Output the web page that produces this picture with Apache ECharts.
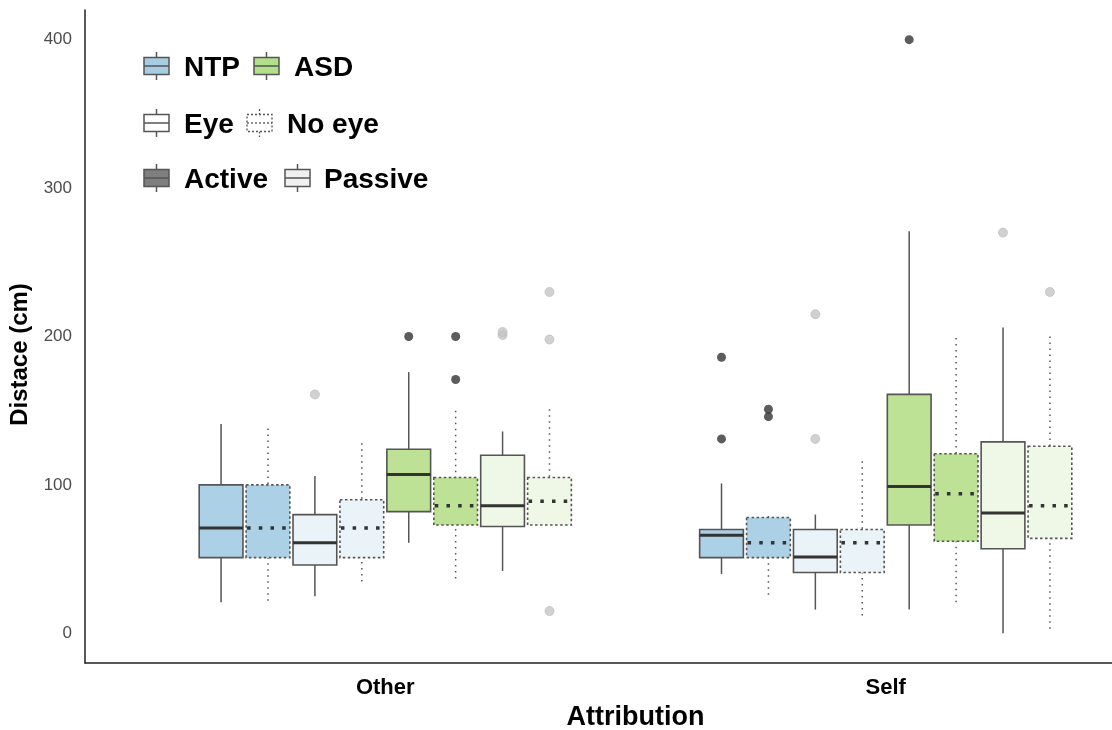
<!DOCTYPE html>
<html>
<head>
<meta charset="utf-8">
<script src="https://cdn.jsdelivr.net/npm/echarts@6/dist/echarts.min.js"></script>
<style>
  html, body { margin: 0; padding: 0; background: #fff; }
  #chart { width: 1112px; height: 730px; }
</style>
</head>
<body>
<div id="chart"></div>
<script>
// groups on the x axis
var categories = ['Other', 'Self'];
// 8 boxes per group, in dodge order
var boxLabels = ['NTP Active Eye', 'NTP Active No eye', 'NTP Passive Eye', 'NTP Passive No eye',
                 'ASD Active Eye', 'ASD Active No eye', 'ASD Passive Eye', 'ASD Passive No eye'];
var yTicks = [0, 100, 200, 300, 400];

// [lower whisker, Q1, median, Q3, upper whisker]
var otherStats = [
  [21, 51, 71, 100, 141],
  [22, 51, 71, 100, 138],
  [25, 46, 61, 80, 106],
  [35, 51, 71, 90, 128],
  [61, 82, 107, 124, 176],
  [37, 73, 86, 105, 150],
  [42, 72, 86, 120, 136],
  [73, 73, 89, 105, 151]
];
var selfStats = [
  [40, 51, 66, 70, 101],
  [26, 51, 61, 78, 79],
  [16, 41, 51.5, 70, 80],
  [12, 41, 61, 70, 116],
  [16, 73, 99, 161, 271],
  [21, 62, 94, 121, 199],
  [0, 57, 81, 129, 206],
  [3, 64, 86, 126, 200]
];
// outliers: [box index, value]
var otherOutliers = [[2, 161], [4, 200], [5, 200], [5, 171], [6, 201], [6, 203], [7, 198], [7, 230], [7, 15]];
var selfOutliers = [[0, 186], [0, 131], [1, 151], [1, 146], [2, 131], [2, 215], [4, 400], [6, 270], [7, 230]];

var SLOT = 0.75 / 8;      // dodge width split over 8 boxes
var HALF_BOX = 0.0437;
var FONT = "'Liberation Sans', Arial, sans-serif";

var activeFill = ['#acd1e6', '#bde296'];   // NTP, ASD
var passiveFill = ['#eaf3f8', '#eff7e6'];

function slotX(groupIdx, slot) {
  return groupIdx + 1 + (slot - 3.5) * SLOT;
}
function fillFor(slot) {
  var grp = slot < 4 ? 0 : 1;
  var passive = (slot % 4) >= 2;
  return passive ? passiveFill[grp] : activeFill[grp];
}

var boxData = [];
[otherStats, selfStats].forEach(function (stats, g) {
  stats.forEach(function (s, i) {
    boxData.push([slotX(g, i), s[0], s[1], s[2], s[3], s[4], i]);
  });
});
var darkPts = [], lightPts = [];
[otherOutliers, selfOutliers].forEach(function (list, g) {
  list.forEach(function (o) {
    var passive = (o[0] % 4) >= 2;
    (passive ? lightPts : darkPts).push([slotX(g, o[0]), o[1]]);
  });
});

function renderBox(params, api) {
  var x = api.value(0);
  var slot = api.value(6);
  var dashed = slot % 2 === 1;
  var lo = api.coord([x, api.value(1)]);
  var q1 = api.coord([x, api.value(2)]);
  var md = api.coord([x, api.value(3)]);
  var q3 = api.coord([x, api.value(4)]);
  var hi = api.coord([x, api.value(5)]);
  var left = api.coord([x - HALF_BOX, 0])[0];
  var right = api.coord([x + HALF_BOX, 0])[0];
  var whiskerStyle = dashed
    ? { stroke: '#555', lineWidth: 1.5, lineDash: [1.5, 4.5] }
    : { stroke: '#555', lineWidth: 1.5 };
  var children = [];
  if (Math.abs(lo[1] - q1[1]) > 0.5) {
    children.push({ type: 'line', shape: { x1: lo[0], y1: lo[1], x2: q1[0], y2: q1[1] }, style: whiskerStyle });
  }
  children.push({ type: 'line', shape: { x1: hi[0], y1: hi[1], x2: q3[0], y2: q3[1] }, style: whiskerStyle });
  children.push({
    type: 'rect',
    shape: { x: left, y: q3[1], width: right - left, height: q1[1] - q3[1] },
    style: dashed
      ? { fill: fillFor(slot), stroke: '#555', lineWidth: 1.6, lineDash: [2.5, 2.5] }
      : { fill: fillFor(slot), stroke: '#555', lineWidth: 1.6 }
  });
  children.push({
    type: 'line',
    shape: { x1: left + (dashed ? 1 : 0), y1: md[1], x2: right, y2: md[1] },
    style: dashed
      ? { stroke: '#333', lineWidth: 3.5, lineDash: [3.5, 8.2] }
      : { stroke: '#333', lineWidth: 3 }
  });
  return { type: 'group', children: children };
}

// legend glyphs
function glyph(x, y, fill, dashed) {
  var w = 25, h = 17;
  var lineStyle = dashed ? { stroke: '#555', lineWidth: 1.3, lineDash: [2, 2] } : { stroke: '#555', lineWidth: 1.5 };
  return {
    type: 'group',
    children: [
      { type: 'line', shape: { x1: x + w / 2, y1: y - 14, x2: x + w / 2, y2: y - h / 2 }, style: lineStyle },
      { type: 'line', shape: { x1: x + w / 2, y1: y + h / 2, x2: x + w / 2, y2: y + 14 }, style: lineStyle },
      { type: 'rect', shape: { x: x, y: y - h / 2, width: w, height: h },
        style: Object.assign({ fill: fill }, lineStyle) },
      { type: 'line', shape: { x1: x, y1: y, x2: x + w, y2: y }, style: lineStyle }
    ]
  };
}
function legText(x, y, txt) {
  return { type: 'text', x: x, y: y,
    style: { text: txt, font: 'bold 28px ' + FONT, fill: '#000', textVerticalAlign: 'middle' } };
}

var chart = echarts.init(document.getElementById('chart'), null, { renderer: 'canvas' });
chart.setOption({
  animation: false,
  backgroundColor: '#fff',
  grid: { left: 85, right: -74, top: 10, bottom: 67, outerBoundsMode: 'none', containLabel: false },
  xAxis: {
    type: 'value', min: 0.4, max: 2.6,
    name: 'Attribution', nameLocation: 'middle', nameGap: 40,
    nameTextStyle: { fontFamily: FONT, fontWeight: 'bold', fontSize: 27, color: '#000' },
    axisLine: { show: true, onZero: false, lineStyle: { color: '#222', width: 1.5 } },
    axisTick: { show: false },
    splitLine: { show: false },
    axisLabel: {
      customValues: [1, 2], margin: 14,
      formatter: function (v) { return categories[Math.round(v) - 1]; },
      fontFamily: FONT, fontWeight: 'bold', fontSize: 22, color: '#000'
    }
  },
  yAxis: {
    type: 'value', min: -20, max: 420,
    name: 'Distace (cm)', nameLocation: 'middle', nameGap: 45,
    nameTextStyle: { fontFamily: FONT, fontWeight: 'bold', fontSize: 24, color: '#000', padding: [0, 36, 0, 0] },
    axisLine: { show: true, onZero: false, lineStyle: { color: '#222', width: 1.5 } },
    axisTick: { show: false },
    splitLine: { show: false },
    axisLabel: { customValues: yTicks, margin: 13, padding: [4, 0, 0, 0], fontFamily: FONT, fontSize: 17, color: '#4d4d4d' }
  },
  series: [
    {
      type: 'custom',
      renderItem: renderBox,
      encode: { x: 0, y: [1, 2, 3, 4, 5] },
      data: boxData,
      z: 2
    },
    {
      type: 'scatter', data: darkPts, symbolSize: 9,
      itemStyle: { color: '#333' }, z: 3
    },
    {
      type: 'scatter', data: lightPts, symbolSize: 9,
      itemStyle: { color: '#c6c6c6', borderColor: '#b8b8b8', borderWidth: 0.8 }, z: 3
    }
  ],
  graphic: [
    glyph(144, 66, '#a6cee3', false), legText(184, 68, 'NTP'),
    glyph(254, 66, '#b2df8a', false), legText(294, 68, 'ASD'),
    glyph(144, 123, '#fff', false), legText(184, 125, 'Eye'),
    glyph(247, 123, '#fff', true), legText(287, 125, 'No eye'),
    glyph(144, 178, '#7f7f7f', false), legText(184, 180, 'Active'),
    glyph(285, 178, '#f0f0f0', false), legText(324, 180, 'Passive')
  ]
});
</script>
</body>
</html>
